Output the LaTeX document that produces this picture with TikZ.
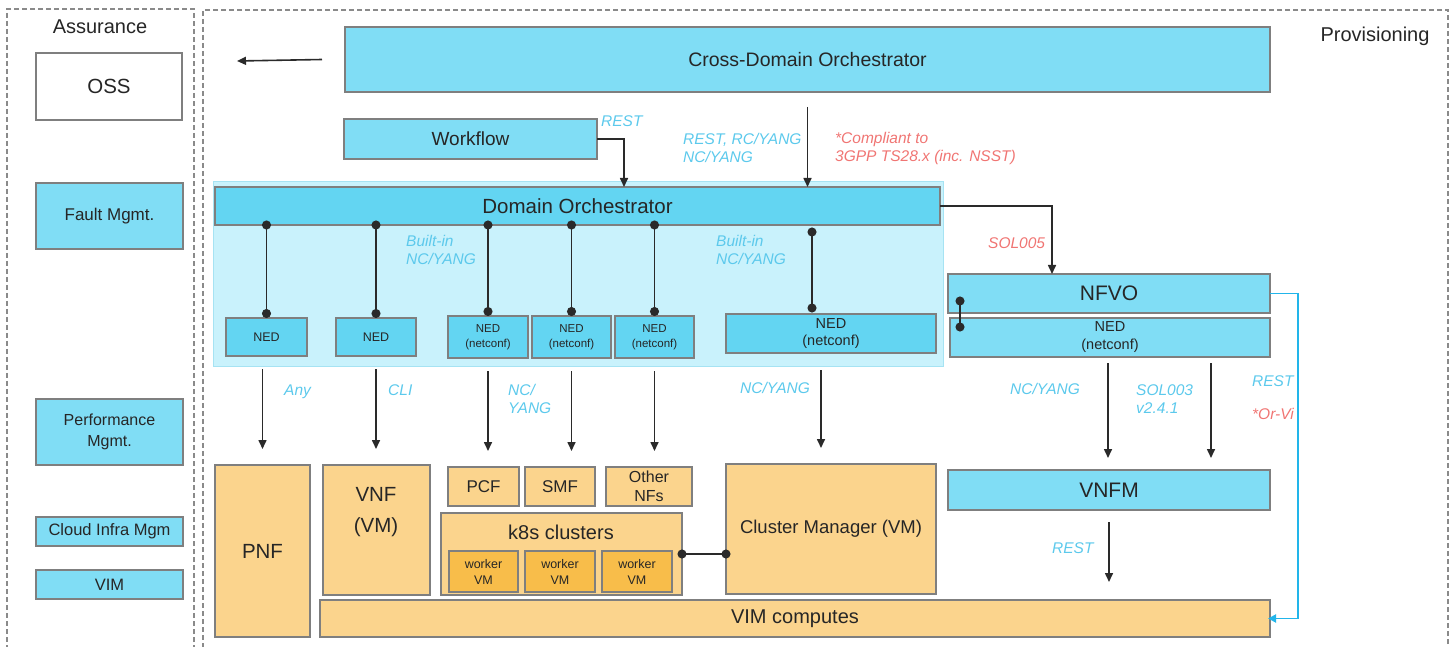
\documentclass[tikz,border=0pt]{standalone}
\usepackage{fontspec}
\setmainfont{Liberation Sans}
\usetikzlibrary{arrows.meta,calc}

\definecolor{cyanbox}{HTML}{80DDF5}
\definecolor{cyandark}{HTML}{63D5F2}
\definecolor{zonefill}{HTML}{C9F2FC}
\definecolor{zoneedge}{HTML}{A6E3F3}
\definecolor{orangebox}{HTML}{FBD48D}
\definecolor{workerbox}{HTML}{F8BD4A}
\definecolor{edgegray}{HTML}{7F7F7F}
\definecolor{dashgray}{HTML}{8A8A8A}
\definecolor{lblue}{HTML}{5CC9EC}
\definecolor{lred}{HTML}{F07573}
\definecolor{ink}{HTML}{262626}
\definecolor{wirecol}{HTML}{2A2A2A}
\definecolor{orvi}{HTML}{22B5EA}

\newcommand\fsz[2]{\fontsize{#1}{#2}\selectfont}

\tikzset{
  area/.style args={#1/#2/#3/#4}{anchor=north west, at={(#1,#2)},
    minimum width={(#3-(#1))*1pt}, minimum height={(#4-(#2))*1pt}},
  box/.style={draw=edgegray, line width=1.2pt, inner sep=0pt, outer sep=0pt, align=center, text=ink},
  cbox/.style={box, fill=cyanbox},
  dbox/.style={box, fill=cyandark},
  obox/.style={box, fill=orangebox},
  wbox/.style={box, fill=workerbox},
  panel/.style={draw=dashgray, dash pattern=on 5pt off 3pt, line width=1.3pt, inner sep=0pt, outer sep=0pt},
  wire/.style={draw=wirecol, line width=1.6pt},
  arr/.style={wire, -{Triangle[length=9pt,width=8pt]}},
  link/.style={wire, {Circle[length=9pt]}-{Circle[length=9pt]}},
  lab/.style={font=\fsz{15.5}{18}\itshape, text=lblue, align=left, anchor=west, inner sep=0pt},
  note/.style={lab, text=lred},
  title/.style={text=ink, inner sep=0pt, align=center},
}

\begin{document}
\begin{tikzpicture}[x=1pt,y=-1pt]
\useasboundingbox (0,0) rectangle (1452,647);

% panels
\node[panel, area=7/9/194/655] (assurance) {};
\node[panel, area=203/10/1448/655] (provisioning) {};
\node[title, font=\fsz{20}{24}] (assurance-title) at (100,27) {Assurance};
\node[title, font=\fsz{20}{24}] (provisioning-title) at (1375,36) {Provisioning};

% assurance column
\node[box, fill=white, area=36/53/182/120, font=\fsz{20.5}{24}] (oss) {OSS};
\node[cbox, area=36/183/183/249, font=\fsz{17}{20}] (fault) {Fault Mgmt.};
\node[cbox, area=36/399/183/465, font=\fsz{16}{21}] (perf) {Performance\\Mgmt.};
\node[cbox, area=36/517/183/546, font=\fsz{16.5}{19}] (cloud) {Cloud Infra Mgm};
\node[cbox, area=36/570/183/599, font=\fsz{16.5}{19}] (vim) {VIM};

% orchestration layer
\node[cbox, area=345/27/1270/92, font=\fsz{19.5}{23}] (cdo) {Cross-Domain Orchestrator};
\node[cbox, area=344/119/597/159, font=\fsz{19}{22}] (wf) {Workflow};

% domain orchestrator zone
\node[draw=zoneedge, fill=zonefill, line width=0.8pt, inner sep=0pt, area=213/181/943/366] (dozone) {};
\node[dbox, area=215/187/940/225, font=\fsz{20.5}{24}] (do) {Domain Orchestrator};

\node[dbox, area=226/318/307/356, font=\fsz{12.5}{15}] (ned1) {NED};
\node[dbox, area=336/318/416/356, font=\fsz{12.5}{15}] (ned2) {NED};
\node[dbox, area=448/316/528/358, font=\fsz{11.5}{15}] (ned3) {NED\\(netconf)};
\node[dbox, area=532/316/611/358, font=\fsz{11.5}{15}] (ned4) {NED\\(netconf)};
\node[dbox, area=615/316/694/358, font=\fsz{11.5}{15}] (ned5) {NED\\(netconf)};
\node[dbox, area=726/314/936/353, font=\fsz{14.5}{17}] (ned6) {NED\\(netconf)};

% NFV side
\node[cbox, area=948/274/1270/313, font=\fsz{21}{24}] (nfvo) {NFVO};
\node[cbox, area=950/318/1270/357, font=\fsz{14.5}{18}] (nedr) {NED\\(netconf)};
\node[cbox, area=948/470/1270/510, font=\fsz{21}{24}] (vnfm) {VNFM};

% workloads
\node[obox, area=215/465/310/637, font=\fsz{20.5}{24}] (pnf) {PNF};
\node[obox, area=323/465/430/595] (vnf) {};
\node[title, font=\fsz{20.5}{31}] (vnf-text) at (376,512) {VNF\\(VM)};
\node[obox, area=448/467/519/506, font=\fsz{17}{20}] (pcf) {PCF};
\node[obox, area=525/467/595/506, font=\fsz{17}{20}] (smf) {SMF};
\node[obox, area=606/467/692/506, font=\fsz{16}{19}] (other) {Other\\NFs};
\node[obox, area=441/513/682/595] (k8s) {};
\node[title, font=\fsz{20}{24}] (k8s-title) at (561,532) {k8s clusters};
\node[wbox, area=449/551/518/592, font=\fsz{12.5}{16}] (w1) {worker\\VM};
\node[wbox, area=525/551/595/592, font=\fsz{12.5}{16}] (w2) {worker\\VM};
\node[wbox, area=602/551/672/592, font=\fsz{12.5}{16}] (w3) {worker\\VM};
\node[obox, area=726/464/936/594, font=\fsz{18.5}{22}] (cm) {Cluster Manager (VM)};
\node[obox, area=320/600/1270/637, font=\fsz{20}{24}] (vimc) {VIM computes};

% helper columns
\coordinate (oss-feed) at (237,61);
\coordinate (col624) at (624,0);
\coordinate (col812) at (812,0);
\coordinate (col821) at (821,0);
\coordinate (col1052) at (1052,0);
\coordinate (col1108) at (1108,0);
\coordinate (col1211) at (1211,0);
\coordinate (nfvo-tap) at (960,301);
\coordinate (ned-tap) at (960,327);

% northbound connectors
\draw[arr] ([xshift=-23pt]cdo.west) -- (oss-feed);
\draw[arr] (wf.east) -| (do.north -| col624);
\draw[arr, shorten <=15pt] (cdo.south) -- (cdo.south |- do.north);
\draw[arr] (do.east) -| (nfvo.north -| col1052);

% domain orchestrator to NEDs
\draw[link, shorten <=-4.5pt] (do.south -| ned1.north) -- (ned1.north);
\draw[link, shorten <=-4.5pt] (do.south -| ned2.north) -- (ned2.north);
\draw[link, shorten <=-4.5pt] (do.south -| ned3.north) -- (ned3.north);
\draw[link, shorten <=-4.5pt] (do.south -| ned4.north) -- (ned4.north);
\draw[link, shorten <=-4.5pt] (do.south -| ned5.north) -- (ned5.north);
\draw[link, shorten <=2.5pt, shorten >=1.5pt] (do.south -| col812) -- (ned6.north -| col812);
\draw[link, shorten <=-4.5pt, shorten >=-4.5pt] (nfvo-tap) -- (ned-tap);

% NEDs to network functions
\draw[arr, shorten <=13pt, shorten >=16pt] (ned1.south -| pnf.north) -- (pnf.north);
\draw[arr, shorten <=13pt, shorten >=16pt] (ned2.south) -- (ned2.south |- vnf.north);
\draw[arr, shorten <=13pt, shorten >=16pt] (ned3.south) -- (ned3.south |- pcf.north);
\draw[arr, shorten <=13pt, shorten >=16pt] (ned4.south) -- (ned4.south |- smf.north);
\draw[arr, shorten <=13pt, shorten >=16pt] (ned5.south) -- (ned5.south |- other.north);
\draw[arr, shorten <=17pt, shorten >=16pt] (ned6.south -| col821) -- (cm.north -| col821);

% NFV connectors
\draw[arr, shorten <=6pt, shorten >=12pt] (nedr.south -| col1108) -- (vnfm.north -| col1108);
\draw[arr, shorten <=6pt, shorten >=12pt] (nedr.south -| col1211) -- (vnfm.north -| col1211);
\draw[arr, shorten <=12pt, shorten >=18pt] (vnfm.south) -- (vnfm.south |- vimc.north);
\draw[draw=orvi, line width=1.9pt, -{Triangle[length=8pt,width=8pt]}, shorten >=-2pt] (nfvo.east) -- ++(28,0) |- (vimc.east);

% cluster link
\draw[link, shorten <=-4.5pt, shorten >=-4.5pt] (k8s.east) -- (k8s.east -| cm.west);

% interface labels
\node[lab] (l-rest1) at (601,121) {REST};
\node[lab] (l-cdo) at (683,148) {REST, RC/YANG\\NC/YANG};
\node[note] (l-3gpp) at (835,148) {*Compliant to\\3GPP TS28.x (inc. NSST)};
\node[lab] (l-bi1) at (406,250) {Built-in\\NC/YANG};
\node[lab] (l-bi2) at (716,250) {Built-in\\NC/YANG};
\node[note] (l-sol005) at (988,243) {SOL005};
\node[lab] (l-any) at (284,392) {Any};
\node[lab] (l-cli) at (388,390) {CLI};
\node[lab] (l-ncy1) at (508,399) {NC/\\YANG};
\node[lab] (l-ncy2) at (740,388) {NC/YANG};
\node[lab] (l-ncy3) at (1010,389) {NC/YANG};
\node[lab] (l-sol003) at (1136,399) {SOL003\\v2.4.1};
\node[lab] (l-rest2) at (1252,381) {REST};
\node[note] (l-orvi) at (1252,414) {*Or-Vi};
\node[lab] (l-rest3) at (1052,548) {REST};
\end{tikzpicture}
\end{document}
